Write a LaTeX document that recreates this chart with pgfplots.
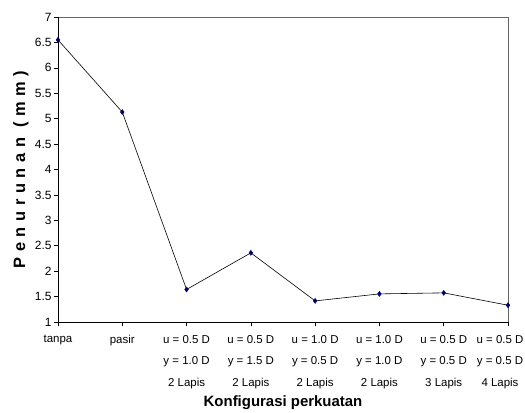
\documentclass[border=0pt]{standalone}
\usepackage{pgfplots}
\pgfplotsset{compat=1.18}
\usepackage{fontspec}
\setmainfont{Liberation Sans}
\newfontfamily\ylabfont[LetterSpace=34]{Liberation Sans}
\definecolor{mk}{RGB}{0,0,110}
\begin{document}
\begin{tikzpicture}
\begin{axis}[
  name=ax,
  scale only axis, width=450bp, height=305bp,
  xmin=0, xmax=7, ymin=1, ymax=7,
  xtick={0,1,2,3,4,5,6},
  ytick={1,1.5,2,2.5,3,3.5,4,4.5,5,5.5,6,6.5,7},
  xticklabels={tanpa, pasir,
    {u = 0.5 D\\y = 1.0 D\\2 Lapis},
    {u = 0.5 D\\y = 1.5 D\\2 Lapis},
    {u = 1.0 D\\y = 0.5 D\\2 Lapis},
    {u = 1.0 D\\y = 1.0 D\\2 Lapis},
    {u = 0.5 D\\y = 0.5 D\\3 Lapis}},
  extra x ticks={7},
  extra x tick labels={{u = 0.5 D\\y = 0.5 D\\4 Lapis}},
  extra x tick style={xticklabel style={xshift=-8bp}},
  /pgf/number format/assume math mode=true,
  xticklabel style={align=center, font=\fontsize{11.5}{21.5}\selectfont, yshift=-6bp},
  yticklabel style={font=\fontsize{12}{14}\selectfont, xshift=1bp},
  tick align=outside, tick pos=left,
  major tick length=4bp,
  tick style={black, line width=0.6pt},
  axis line style={gray!80!black, line width=0.5pt},
  xlabel={Konfigurasi perkuatan},
  ylabel={Penurunan (mm)},
  xlabel style={at={(axis description cs:0.5,0)}, yshift=-81bp, anchor=center, font=\bfseries\fontsize{15}{17}\selectfont},
  ylabel style={at={(axis description cs:0,0.5)}, yshift=37bp, anchor=center, font=\ylabfont\bfseries\fontsize{16.5}{18}\selectfont},
]
\draw[black, line width=1pt] (rel axis cs:0,1) -- (rel axis cs:0,0) -- (rel axis cs:1,0);
\addplot[black, line width=0.6pt, mark=diamond*, mark size=2.4bp,
  mark options={fill=mk, draw=mk}] coordinates {
  (0,6.55) (1,5.13) (2,1.64) (3,2.36) (4,1.415) (5,1.553) (6,1.573) (7,1.33)
};
\end{axis}
\pgfresetboundingbox
\path[use as bounding box] ([xshift=-58bp,yshift=-91bp]ax.south west) rectangle ([xshift=17bp,yshift=17bp]ax.north east);
\end{tikzpicture}
\end{document}
